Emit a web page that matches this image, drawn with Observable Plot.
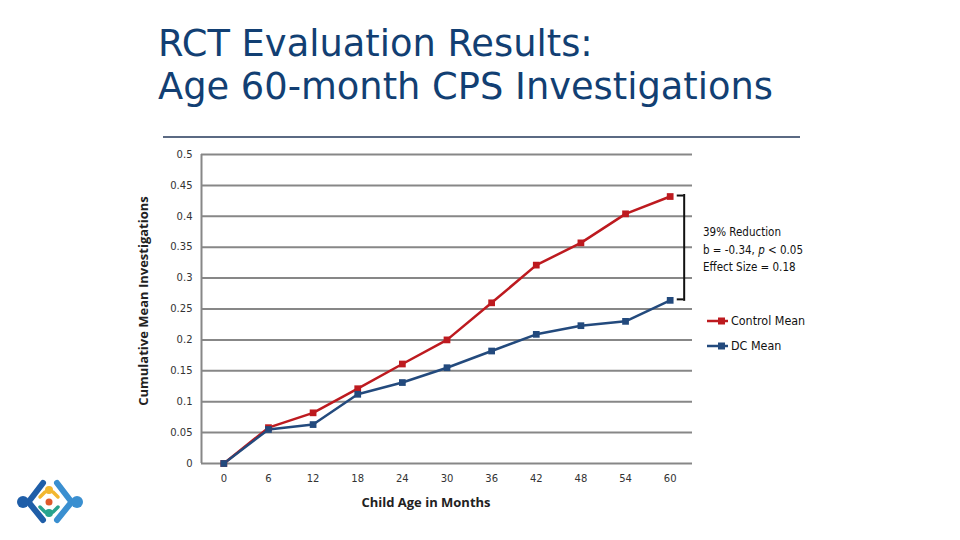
<!DOCTYPE html>
<html><head><meta charset="utf-8">
<script src="https://cdn.jsdelivr.net/npm/d3@7"></script>
<script src="https://cdn.jsdelivr.net/npm/@observablehq/plot@0.6"></script>
<style>
body{margin:0;background:#fff;}
#wrap{position:relative;width:960px;height:540px;overflow:hidden;font-family:"DejaVu Sans",sans-serif;}
#chart{position:absolute;left:0;top:0;}
.title{position:absolute;left:158px;top:22px;font-family:"DejaVu Sans",sans-serif;font-size:36.8px;line-height:43px;color:#123f73;white-space:nowrap;}
.rule{position:absolute;left:163px;top:136px;width:637px;height:2px;background:#5b6a83;}
.ylab{position:absolute;left:143px;top:301px;transform:translate(-50%,-50%) rotate(-90deg);font-family:"Open Sans",sans-serif;font-weight:bold;font-size:13px;color:#222;white-space:nowrap;}
.xlab{position:absolute;left:426px;top:502px;transform:translate(-50%,-50%);font-family:"Open Sans",sans-serif;font-weight:bold;font-size:13px;color:#222;white-space:nowrap;}
.note{position:absolute;left:703px;top:224px;font-family:"DejaVu Sans Condensed","DejaVu Sans",sans-serif;font-size:11.5px;line-height:17.5px;color:#111;white-space:nowrap;}
.legend{position:absolute;left:707px;font-family:"DejaVu Sans Condensed","DejaVu Sans",sans-serif;font-size:12.4px;color:#111;white-space:nowrap;display:flex;align-items:center;}
.legend svg{margin-right:1px;}
.logo{position:absolute;left:0;top:470px;}
</style></head><body>
<div id="wrap">
<div id="chart"></div>
<div class="title">RCT Evaluation Results:<br>Age 60-month CPS Investigations</div>
<div class="rule"></div>
<div class="ylab">Cumulative Mean Investigations</div>
<div class="xlab">Child Age in Months</div>
<div class="note">39% Reduction<br>b = -0.34, <i>p</i> &lt; 0.05<br>Effect Size = 0.18</div>
<div id="legend"></div>
<svg class="logo" width="110" height="70" viewBox="0 470 110 70">
  <path d="M43 483 L30 500 M30 504 L43 520" stroke="#1f5ea8" stroke-width="6" stroke-linecap="round" fill="none"/>
  <path d="M57 483 L70 500 M70 504 L57 520" stroke="#3a8fd0" stroke-width="6" stroke-linecap="round" fill="none"/>
  <circle cx="23" cy="502" r="6" fill="#1f5ea8"/>
  <circle cx="77" cy="502" r="6" fill="#3a8fd0"/>
  <circle cx="49" cy="490" r="4" fill="#f2b730"/>
  <path d="M40 497 L45 492 M58 497 L53 492" stroke="#f2b730" stroke-width="3.5" stroke-linecap="round"/>
  <circle cx="49" cy="502" r="3.5" fill="#e0592a"/>
  <circle cx="49" cy="513" r="4" fill="#27a38e"/>
  <path d="M40 507 L45 512 M58 507 L53 512" stroke="#27a38e" stroke-width="3.5" stroke-linecap="round"/>
</svg>
</div>
<script>
const months = [0, 6, 12, 18, 24, 30, 36, 42, 48, 54, 60];
const controlMean = [0, 0.058, 0.082, 0.121, 0.161, 0.200, 0.260, 0.321, 0.357, 0.404, 0.432];
const dcMean = [0, 0.055, 0.063, 0.112, 0.131, 0.155, 0.182, 0.209, 0.223, 0.230, 0.264];
const seriesNames = ["Control Mean", "DC Mean"];
const seriesColors = ["#bd1a1f", "#234a7d"];
const yTicks = [0, 0.05, 0.1, 0.15, 0.2, 0.25, 0.3, 0.35, 0.4, 0.45, 0.5];

const rows = [];
months.forEach((m, i) => {
  rows.push({month: m, value: controlMean[i], series: seriesNames[0]});
  rows.push({month: m, value: dcMean[i], series: seriesNames[1]});
});
const lastC = controlMean[controlMean.length - 1];
const lastD = dcMean[dcMean.length - 1];

const plot = Plot.plot({
  width: 960, height: 540,
  marginLeft: 201, marginRight: 268, marginTop: 154, marginBottom: 77,
  style: {fontFamily: "DejaVu Sans, sans-serif", fontSize: "10px", color: "#333", background: "transparent", overflow: "visible"},
  x: {type: "linear", domain: [-3, 63]},
  y: {domain: [0, 0.5]},
  color: {domain: seriesNames, range: seriesColors},
  marks: [
    Plot.ruleY(yTicks, {stroke: "#878787", strokeWidth: 2}),
    Plot.ruleX([-3], {stroke: "#878787", strokeWidth: 2}),
    Plot.axisY({ticks: yTicks, tickSize: 0, tickPadding: 9, tickFormat: d => String(+d.toFixed(2)), label: null}),
    Plot.axisX({ticks: months, tickSize: 0, tickPadding: 11, tickFormat: d => String(d), label: null}),
    Plot.line(rows, {x: "month", y: "value", z: "series", stroke: "series", strokeWidth: 2.5}),
    Plot.dot(rows, {x: "month", y: "value", fill: "series", symbol: "square", r: 3.8}),
    Plot.ruleX([60], {y1: lastC, y2: lastD, dx: 14, dy: 0, stroke: "#111", strokeWidth: 2, insetTop: -2, insetBottom: -1}),
    Plot.ruleY([lastC, lastD], {x1: 60.95, x2: 61.88, dy: -1, stroke: "#111", strokeWidth: 2})
  ]
});
document.getElementById("chart").appendChild(plot);

const legend = document.getElementById("legend");
seriesNames.forEach((name, i) => {
  const div = document.createElement("div");
  div.className = "legend";
  div.style.top = (313 + i * 25) + "px";
  div.innerHTML = `<svg width="23" height="12"><line x1="0" y1="6" x2="21" y2="6" stroke="${seriesColors[i]}" stroke-width="2.5"/><rect x="11" y="2.5" width="7" height="7" fill="${seriesColors[i]}"/></svg>${name}`;
  legend.appendChild(div);
});
</script>
</body></html>
